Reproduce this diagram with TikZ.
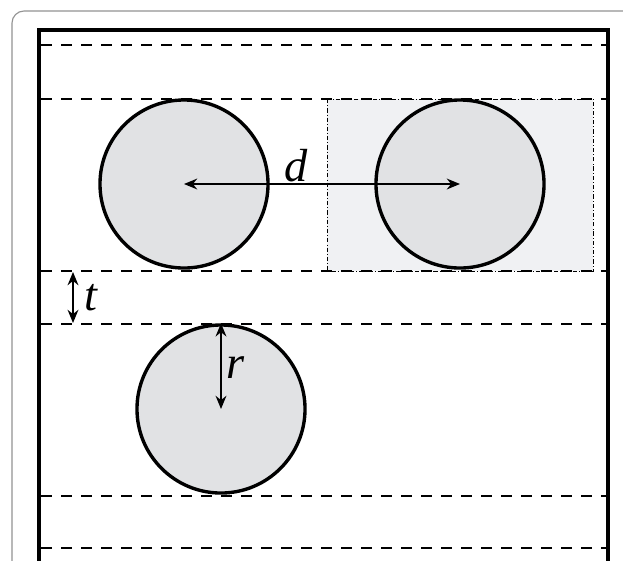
\documentclass[tikz,border=0pt]{standalone}
\usepackage{fontspec}
\setmainfont{Liberation Serif}
\usepackage{tikz}
\usetikzlibrary{arrows.meta,positioning,calc}

\definecolor{ballgray}{RGB}{225,226,228}
\definecolor{cellgray}{RGB}{240,241,243}

\begin{document}
\begin{tikzpicture}[
    x=0.025cm, y=-0.025cm,
    ball/.style={circle, draw, line width=2.4pt, fill=ballgray, minimum size=4.2cm, inner sep=0pt},
    layer/.style={line width=1.6pt, dash pattern=on 0.27cm off 0.23cm},
    cell/.style={draw, line width=0.6pt, dash pattern=on 3pt off 1.5pt on 0.6pt off 1.5pt, fill=cellgray},
    gap/.style={line width=1.3pt, {Stealth[length=0.33cm,width=0.27cm]}-{Stealth[length=0.33cm,width=0.27cm]}},
    lbl/.style={font=\fontsize{33}{38}\selectfont\itshape, inner sep=0pt, anchor=base}
  ]
  \clip (0,0) rectangle (623,560);
  \fill[white] (0,0) rectangle (623,560);

  % frames
  \draw[gray!85, line width=0.8pt, rounded corners=0.3cm] (12,11) rectangle (700,640);
  \draw[line width=2.8pt] (39,30) rectangle (608,640);

  % unit cell behind the right particle
  \draw[cell] (327,99) rectangle (593,271);

  % layer boundaries
  \foreach \yy in {45,99,271,324,496,548}
    \draw[layer] (41,\yy) -- (606,\yy);

  % particles
  \node[ball] (left) at (184,184) {};
  \node[ball] (right) at (460,184) {};
  \node[ball] (low) at (221,409) {};

  % spacing
  \draw[gap] (left.center) -- (right.center);
  \node[lbl] (dlbl) at (296,181) {d};

  \coordinate (ttop) at (73,272);
  \coordinate (tbot) at (73,323);
  \draw[gap] (ttop) -- (tbot);
  \node[lbl] (tlbl) at (91,310) {t};

  \draw[gap] (low.north) -- (low.center);
  \node[lbl] (rlbl) at (236,378) {r};
\end{tikzpicture}
\end{document}
